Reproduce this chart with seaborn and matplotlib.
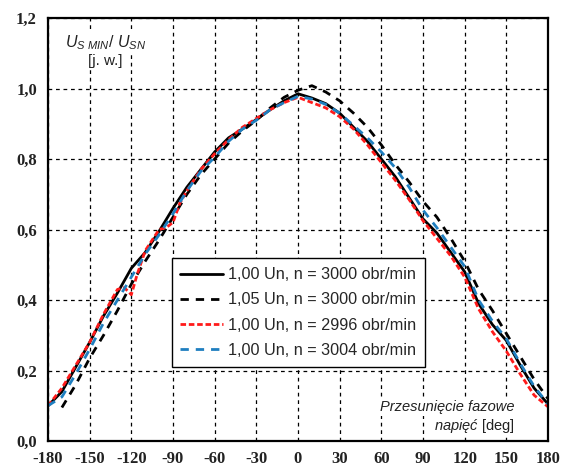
import matplotlib
matplotlib.use("Agg")
import matplotlib.pyplot as plt
import seaborn as sns
import pandas as pd

# ---- data ----
x_solid = [-180, -170, -160, -150, -140, -130, -120, -110, -100, -90, -80, -70, -60, -50, -40, -30, -20, -10,
           0, 10, 20, 30, 40, 50, 60, 70, 80, 90, 100, 110, 120, 130, 140, 150, 160, 170, 180]
y_solid = [0.10, 0.14, 0.21, 0.28, 0.355, 0.42, 0.49, 0.535, 0.595, 0.66, 0.72, 0.77, 0.82, 0.86, 0.885, 0.912,
           0.94, 0.965, 0.985, 0.973, 0.957, 0.93, 0.89, 0.85, 0.80, 0.75, 0.69, 0.63, 0.59, 0.535, 0.48, 0.39,
           0.33, 0.285, 0.215, 0.15, 0.105]

x_105 = [-170, -160, -150, -140, -130, -120, -110, -100, -90, -80, -70, -60, -50, -40, -30, -20, -10,
         0, 10, 20, 30, 40, 50, 60, 70, 80, 90, 100, 110, 120, 130, 140, 150, 160, 170, 180]
y_105 = [0.095, 0.16, 0.235, 0.30, 0.37, 0.445, 0.51, 0.57, 0.635, 0.70, 0.755, 0.80, 0.845, 0.88, 0.91, 0.945,
         0.975, 0.995, 1.008, 0.99, 0.965, 0.93, 0.89, 0.84, 0.785, 0.735, 0.68, 0.635, 0.575, 0.51, 0.43, 0.37,
         0.305, 0.24, 0.175, 0.12]

x_2996 = [-180, -170, -160, -150, -140, -130, -125, -120, -116, -110, -100, -95, -90, -85, -80, -70, -60, -50,
          -40, -30, -20, -10, 0, 10, 20, 30, 40, 50, 60, 70, 80, 90, 100, 110, 120, 130, 140, 150, 160, 170, 180]
y_2996 = [0.10, 0.15, 0.215, 0.28, 0.36, 0.43, 0.435, 0.415, 0.47, 0.54, 0.60, 0.605, 0.62, 0.675, 0.71, 0.77,
          0.815, 0.855, 0.89, 0.915, 0.94, 0.96, 0.975, 0.96, 0.945, 0.92, 0.885, 0.84, 0.79, 0.74, 0.685, 0.625,
          0.575, 0.525, 0.465, 0.375, 0.31, 0.255, 0.19, 0.13, 0.097]

x_3004 = [-180, -170, -160, -150, -140, -130, -120, -110, -100, -90, -80, -70, -60, -50, -40, -30, -20, -10,
          0, 10, 20, 30, 40, 50, 60, 70, 80, 90, 100, 110, 120, 130, 140, 150, 160, 170, 180]
y_3004 = [0.10, 0.125, 0.19, 0.26, 0.335, 0.40, 0.465, 0.53, 0.585, 0.645, 0.71, 0.765, 0.805, 0.85, 0.885, 0.91,
          0.94, 0.96, 0.978, 0.97, 0.955, 0.93, 0.895, 0.86, 0.82, 0.775, 0.72, 0.655, 0.605, 0.55, 0.495, 0.40,
          0.34, 0.29, 0.22, 0.155, 0.105]

labels = ["1,00 Un, n = 3000 obr/min", "1,05 Un, n = 3000 obr/min",
          "1,00 Un, n = 2996 obr/min", "1,00 Un, n = 3004 obr/min"]

x_ticks = [-180, -150, -120, -90, -60, -30, 0, 30, 60, 90, 120, 150, 180]
x_ticklabels = ["-180", "-150", "-120", "-90", "-60", "-30", "0", "30", "60", "90", "120", "150", "180"]
y_ticks = [0.0, 0.2, 0.4, 0.6, 0.8, 1.0, 1.2]
y_ticklabels = ["0,0", "0,2", "0,4", "0,6", "0,8", "1,0", "1,2"]

# ---- style ----
sns.set_style("white")
plt.rcParams["font.family"] = ["Liberation Sans", "DejaVu Sans"]
plt.rcParams["mathtext.fontset"] = "custom"
plt.rcParams["mathtext.it"] = "Liberation Sans:italic"
plt.rcParams["mathtext.rm"] = "Liberation Sans"

fig = plt.figure(figsize=(5.62, 4.70), dpi=100)
ax = fig.add_axes([48 / 562, 1 - 441 / 470, 500 / 562, 423 / 470])

series = [
    (x_solid, y_solid, "black", "-", labels[0]),
    (x_105, y_105, "black", (0, (3, 2.5)), labels[1]),
    (x_2996, y_2996, "#ff1a1a", (0, (2, 1)), labels[2]),
    (x_3004, y_3004, "#1f7fc0", (0, (3, 2.5)), labels[3]),
]
for xs, ys, col, ls, lab in series:
    df = pd.DataFrame({"x": xs, "y": ys})
    sns.lineplot(data=df, x="x", y="y", ax=ax, color=col, linestyle=ls, linewidth=2, label=lab)

ax.set_xlim(-180, 180)
ax.set_ylim(0, 1.2)
ax.set_xticks(x_ticks)
ax.set_xticklabels(x_ticklabels)
ax.set_yticks(y_ticks)
ax.set_yticklabels(y_ticklabels)
ax.set_xlabel("")
ax.set_ylabel("")
for lbl in ax.get_xticklabels() + ax.get_yticklabels():
    lbl.set_fontfamily("Liberation Serif")
    lbl.set_fontweight("bold")
    lbl.set_fontsize(12)
    lbl.set_color("#222222")
ax.tick_params(axis="x", length=0, pad=7)
ax.tick_params(axis="y", length=0, pad=8)

ax.grid(True, color="black", linestyle=(0, (3, 3)), linewidth=0.9)
ax.set_axisbelow(True)
for sp in ax.spines.values():
    sp.set_visible(True)
    sp.set_color("black")
    sp.set_linewidth(1.6)

leg = ax.legend(loc="lower left", bbox_to_anchor=(0.247, 0.176), borderaxespad=0,
                fancybox=False, edgecolor="black", framealpha=1, fontsize=11.7,
                handlelength=2.6, labelspacing=0.62, borderpad=0.55, handletextpad=0.35)
leg.get_frame().set_linewidth(1.0)

box = dict(facecolor="white", edgecolor="none", pad=1.5)
ax.text(0.034, 0.941, r"$U_{S\ MIN}/\ U_{SN}$", transform=ax.transAxes, ha="left", va="center",
        fontsize=11.5, color="#222222", bbox=box, zorder=1.5)
ax.text(0.114, 0.898, "[j. w.]", transform=ax.transAxes, ha="center", va="center",
        fontsize=11, color="#222222", bbox=box, zorder=1.5)
ax.text(0.934, 0.081, "Przesunięcie fazowe", transform=ax.transAxes, ha="right", va="center",
        fontsize=10.5, style="italic", color="#222222", bbox=box, zorder=1.5)
ax.text(0.934, 0.035, r"$\mathit{napięć}$ [deg]", transform=ax.transAxes, ha="right", va="center",
        fontsize=10.5, color="#222222", bbox=box, zorder=1.5)

fig.savefig("out.png", dpi=100)
